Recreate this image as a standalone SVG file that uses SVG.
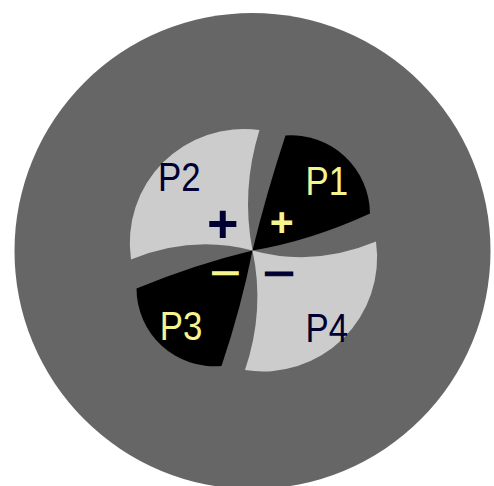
<svg xmlns="http://www.w3.org/2000/svg" width="494" height="486" viewBox="0 0 494 486">
<style>
.light{fill:#cccccc}
.dark{fill:#000000}
.lbl{font-family:"Liberation Sans",Arial,sans-serif;font-size:40px}
.sign{font-family:"Liberation Sans",Arial,sans-serif;font-weight:bold;text-anchor:middle}
.yel{fill:#f5f590}
.navy{fill:#000033}
.ys{stroke:#f5f590}
.ns{stroke:#000033}
</style>
<rect width="494" height="486" fill="#ffffff"/>
<g id="body">
<circle cx="252.5" cy="251" r="238" fill="#666666"/>
</g>
<g id="P1">
<path class="dark" d="M252.5,250.5 Q266.4,193 285.5,135.5 A79,79 0 0 1 370,213.5 Q310.75,240.8 252.5,250.5 Z"/>
<text class="lbl yel" transform="translate(305.5,194.5) scale(0.87,1)">P1</text>
<text class="sign yel" x="281.7" y="236" font-size="41">+</text>
</g>
<g id="P2">
<path class="light" d="M252.5,250.5 Q240.8,190.25 259.5,130 A114,114 0 0 0 131,259.5 Q191.75,234.6 252.5,250.5 Z"/>
<text class="lbl navy" transform="translate(158,190.7) scale(0.87,1)">P2</text>
<text class="sign navy" x="222.7" y="241.7" font-size="54">+</text>
</g>
<g id="P3">
<path class="dark" d="M252.5,250.5 Q194.5,264.5 136.5,288.5 A78,78 0 0 0 221.5,366 Q241,308.25 252.5,250.5 Z"/>
<text class="lbl yel" transform="translate(159.8,339.5) scale(0.87,1)">P3</text>
<text class="sign yel ys" stroke-width="0.6" transform="translate(225.8,283.8) scale(1.6,1)" font-size="32">−</text>
</g>
<g id="P4">
<path class="light" d="M252.5,250.5 Q265.25,310.25 245,370 A114,114 0 0 0 376,241.5 Q314.25,267.4 252.5,250.5 Z"/>
<text class="lbl navy" transform="translate(305.5,341.5) scale(0.87,1)">P4</text>
<text class="sign navy ns" stroke-width="1" transform="translate(279.3,285.4) scale(1.57,1)" font-size="34">−</text>
</g>
</svg>
